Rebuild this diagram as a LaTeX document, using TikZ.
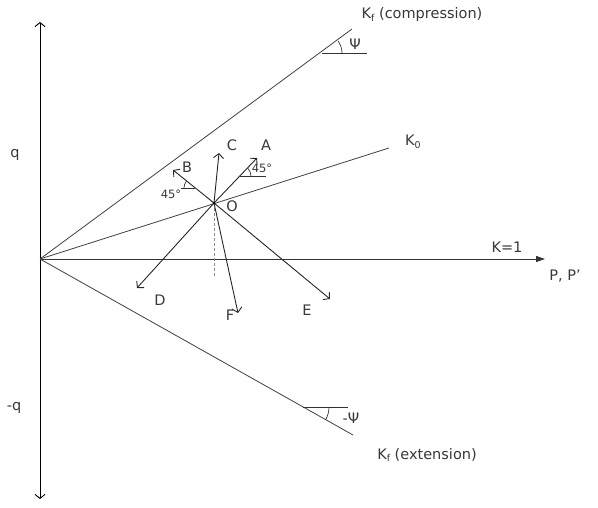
\documentclass[tikz,border=0pt]{standalone}
\usepackage{fontspec}
\setmainfont{DejaVu Sans}
\usetikzlibrary{arrows.meta,calc}
\tikzset{
  lbl/.style={font=\fontsize{14.5}{16}\selectfont, text=black!78, inner sep=0pt},
  ln/.style={line width=0.8pt, draw=black!75},
  vec/.style={line width=0.9pt, draw=black!85, -{Straight Barb[length=4.5pt,width=10pt,line width=0.9pt]}},
  ang/.style={line width=0.7pt, draw=black!80}
}
\newcommand{\Ksub}[1]{K\raisebox{-0.35ex}{\fontsize{9.5}{10}\selectfont #1}}
\begin{document}
\begin{tikzpicture}[x=1pt,y=-1pt]
\useasboundingbox (0,0) rectangle (598,508);
% axes
\coordinate (org) at (40,259);
\coordinate (qtop) at (40,22);
\coordinate (qbot) at (40,499);
\coordinate (pend) at (545,259);
\draw[line width=0.9pt, {Straight Barb[length=4pt,width=10pt,line width=0.9pt]}-{Straight Barb[length=4pt,width=10pt,line width=0.9pt]}] (qtop) -- (qbot);
\draw[line width=0.9pt, draw=black!80, -{Triangle[length=9pt,width=6pt]}] (org) -- (pend);
% K lines
\coordinate (kc) at (352,29);
\coordinate (ke) at (353,435);
\coordinate (k0) at (389,148);
\draw[ln] (org) -- (kc);
\draw[ln] (org) -- (ke);
\draw[ln] (org) -- (k0);
% Psi angles
\coordinate (pc) at (322,53);
\coordinate (pch) at (367,53);
\draw[ang] (pc) -- (pch);
\draw[ang] ($(pc)+(20,0)$) arc[start angle=0, end angle=-36.4, radius=20];
\coordinate (pe) at (303,407);
\coordinate (peh) at (348,407);
\draw[ang] (pe) -- (peh);
\draw[ang] ($(pe)+(26,0)$) arc[start angle=0, end angle=29.3, radius=26];
% O and vectors
\coordinate (O) at (214,203);
\coordinate (A) at (257,158);
\coordinate (B) at (173,170);
\coordinate (C) at (219,153);
\coordinate (D) at (137,288);
\coordinate (E) at (330,299);
\coordinate (F) at (238,313);
\coordinate (Odash) at (214,276);
\draw[line width=0.5pt, draw=black!45, dash pattern=on 3pt off 2pt] (O) -- (Odash);
\foreach \p in {A,B,C,D,E,F} \draw[vec] (O) -- (\p);
\fill[black] (O) circle (1.3pt);
% 45 deg angles
\coordinate (aa) at (240,176);
\coordinate (aah) at (266,176);
\draw[ang] (aa) -- (aah);
\draw[ang] ($(aa)+(11,0)$) arc[start angle=0, end angle=-46, radius=11];
\coordinate (ba) at (195,188);
\coordinate (bah) at (181,188);
\draw[ang] (ba) -- (bah);
\draw[ang] ($(ba)+(-11,0)$) arc[start angle=180, end angle=219, radius=11];
% labels
\node[lbl] (lq) at (15,155) {q};
\node[lbl] (lmq) at (14,408) {-q};
\node[lbl] (lk1) at (507,247) {K=1};
\node[lbl] (lp) at (565,276) {P, P'};
\node[lbl] (lk0) at (413,142) {\Ksub{0}};
\node[lbl] (lkc) at (422,15) {\Ksub{f} (compression)};
\node[lbl] (lke) at (427,455) {\Ksub{f} (extension)};
\node[lbl] (lpsi) at (355,44) {Ψ};
\node[lbl] (lmpsi) at (351,418) {-Ψ};
\node[lbl] (lO) at (232,206) {O};
\node[lbl] (lA) at (266,145) {A};
\node[lbl] (lB) at (187,167) {B};
\node[lbl] (lC) at (232,145) {C};
\node[lbl] (lD) at (160,300) {D};
\node[lbl] (lE) at (307,310) {E};
\node[lbl] (lF) at (230,315) {F};
\node[lbl, font=\fontsize{11.5}{13}\selectfont] (la45) at (262,168) {45°};
\node[lbl, font=\fontsize{11.5}{13}\selectfont] (lb45) at (171,194) {45°};
\end{tikzpicture}
\end{document}
